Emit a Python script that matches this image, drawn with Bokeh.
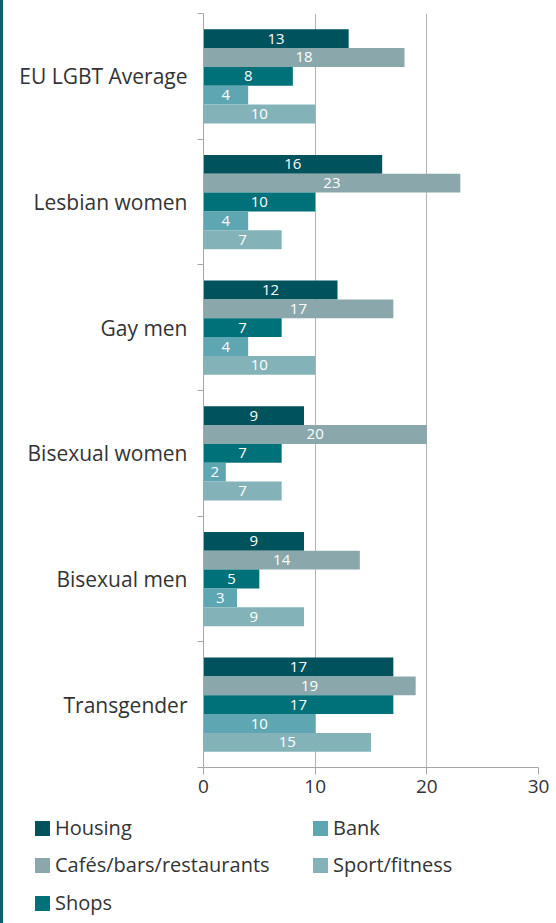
from bokeh.plotting import figure
from bokeh.models import ColumnDataSource, FixedTicker, Spacer, Range1d, Row, Column, Div
from bokeh.embed import file_html
from bokeh.resources import INLINE
from bokeh.core.properties import value

categories = ["EU LGBT Average", "Lesbian women", "Gay men", "Bisexual women", "Bisexual men", "Transgender"]
series = ["Housing", "Cafés/bars/restaurants", "Shops", "Bank", "Sport/fitness"]
housing = [13, 16, 12, 9, 9, 17]
cafes = [18, 23, 17, 20, 14, 19]
shops = [8, 10, 7, 7, 5, 17]
bank = [4, 4, 4, 2, 3, 10]
sport = [10, 7, 10, 7, 9, 15]
x_ticks = [0, 10, 20, 30]

colors = ["#00525c", "#8aa8ab", "#007079", "#5ea6b2", "#83b3b9"]
offsets = [0.3, 0.15, 0.0, -0.15, -0.3]
FONT = "Open Sans"
TXT = "#333333"

n = len(categories)
centers = [n - 1 - i for i in range(n)]

p = figure(width=553, height=810, output_backend="svg", toolbar_location=None,
           x_range=Range1d(0, 30), y_range=Range1d(-0.5, n - 0.5),
           min_border_left=200, min_border_right=18, min_border_top=13, min_border_bottom=43)
p.outline_line_color = None
p.background_fill_color = "white"
p.border_fill_color = "white"

for name, vals, col, off in zip(series, [housing, cafes, shops, bank, sport], colors, offsets):
    src = ColumnDataSource(dict(
        y=[c + off for c in centers],
        v=vals,
        lx=[v / 2 for v in vals],
        lab=[str(v) for v in vals],
    ))
    p.hbar(y="y", left=0, right="v", height=0.15, source=src, fill_color=col, line_color=None,
           legend_label=name)
    p.text(x="lx", y="y", text="lab", source=src, text_align="center", text_baseline="middle",
           text_color="white", text_font=value(FONT), text_font_size="15px")
p.legend.visible = False

# axes
p.xaxis.ticker = FixedTicker(ticks=x_ticks)
p.xgrid.ticker = FixedTicker(ticks=x_ticks)
p.xgrid.grid_line_color = "#b3b3b3"
p.ygrid.visible = False
p.xaxis.axis_line_color = "#a6a6a6"
p.xaxis.major_tick_line_color = "#a6a6a6"
p.xaxis.major_tick_out = 7
p.xaxis.major_tick_in = 0
p.xaxis.minor_tick_line_color = None
p.xaxis.major_label_text_font = FONT
p.xaxis.major_label_text_font_size = "19px"
p.xaxis.major_label_text_color = TXT
p.xaxis.major_label_standoff = 5

p.yaxis.ticker = FixedTicker(ticks=centers, minor_ticks=[c - 0.5 for c in range(n + 1)])
p.yaxis.major_label_overrides = {c: categories[i] for i, c in enumerate(centers)}
p.yaxis.axis_line_color = "#a6a6a6"
p.yaxis.major_tick_line_color = None
p.yaxis.major_tick_out = 0
p.yaxis.major_tick_in = 0
p.yaxis.minor_tick_line_color = "#a6a6a6"
p.yaxis.minor_tick_out = 6
p.yaxis.minor_tick_in = 0
p.yaxis.major_label_text_font = FONT
p.yaxis.major_label_text_font_size = "21px"
p.yaxis.major_label_text_color = TXT
p.yaxis.major_label_standoff = 10

# legend (two columns: first three series, then the rest)
col_x = [27, 305]
row_top = [0, 37, 75]
items_html = []
for i, (name, col) in enumerate(zip(series, colors)):
    c, r = (0, i) if i < 3 else (1, i - 3)
    items_html.append(
        f'<div style="position:absolute;left:{col_x[c]}px;top:{row_top[r]}px;height:26px;'
        f'line-height:26px;white-space:nowrap;font-family:\'{FONT}\';font-size:20px;color:{TXT};">'
        f'<span style="display:inline-block;width:15px;height:15px;background:{col};'
        f'margin-right:5px;vertical-align:-1px;"></span>{name}</div>'
    )
legend_div = Div(width=553, height=113,
                 text='<div style="position:relative;width:553px;height:113px;">' + "".join(items_html) + "</div>")

bar = Spacer(width=3, height=923, styles={"background-color": "#0a5f6a"})
layout = Row(children=[bar, Column(children=[p, legend_div], spacing=0)], spacing=0)

open("out.html", "w").write(file_html(layout, INLINE))
